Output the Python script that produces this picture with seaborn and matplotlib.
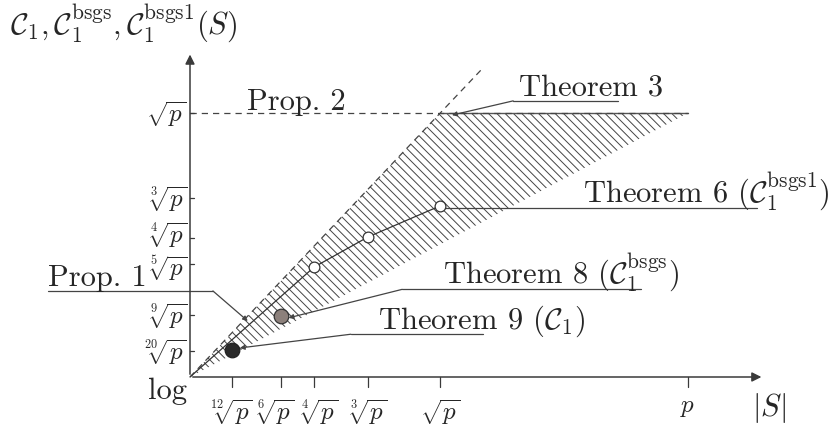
import matplotlib
matplotlib.use("Agg")
import matplotlib.pyplot as plt
import seaborn as sns
import pandas as pd

# positions are exponents of p (log scale)
x_ticks = [0.084, 0.183, 0.249, 0.357, 0.502, 1.0]
x_labels = [r"$\sqrt[12]{p}$", r"$\sqrt[6]{p}$", r"$\sqrt[4]{p}$",
            r"$\sqrt[3]{p}$", r"$\sqrt{p}$", r"$p$"]
y_ticks = [0.049, 0.117, 0.214, 0.263, 0.339, 0.5]
y_labels = [r"$\sqrt[20]{p}$", r"$\sqrt[9]{p}$", r"$\sqrt[5]{p}$",
            r"$\sqrt[4]{p}$", r"$\sqrt[3]{p}$", r"$\sqrt{p}$"]
# small nudges (points) so crowded tick labels do not collide
x_nudge = [0, -4, 4, 0, 0, 0]
y_nudge = [0, 0, -3, 3, 0, 0]

# feasible (hatched) region: between |S| and sqrt(|S|), capped at sqrt(p)
region_x = [0.0, 0.502, 1.0]
region_y = [0.0, 0.5, 0.5]

# Theorem 6 (bsgs1) points
thm6_x = [0.0, 0.249, 0.357, 0.502]
thm6_y = [0.0, 0.208, 0.265, 0.324]
# Theorem 8 (bsgs) and Theorem 9 (C1) points
thm8_x, thm8_y = [0.183], [0.116]
thm9_x, thm9_y = [0.084], [0.051]

sns.set_theme(style="white")
plt.rcParams["font.family"] = ["cmr10", "DejaVu Serif"]
plt.rcParams["mathtext.fontset"] = "cm"
plt.rcParams["axes.unicode_minus"] = False
plt.rcParams["hatch.linewidth"] = 0.7

fig = plt.figure(figsize=(8.38, 4.31), dpi=100)
ax = fig.add_axes([0, 0, 1, 1])
ax.set_xlim(-190 / 498, 648 / 498)
ax.set_ylim(-53 / 528, 378 / 528)
ax.axis("off")

axc = "#3a3a3a"
fs = 22
xfs = 18
yfs = 18

# hatched region
ax.fill(region_x, region_y, facecolor="white", edgecolor="#444444",
        hatch="\\\\\\\\", linewidth=0, zorder=1)
ax.plot(region_x[1:], region_y[1:], color="#555555", lw=1.0, zorder=2)

# dashed guides
ax.plot([0, 0.59], [0, 0.59 * 0.995], ls=(0, (5, 4)), color="#444444", lw=0.9, zorder=2)
ax.plot([0, 1.0], [0.5, 0.5], ls=(0, (5, 4)), color="#444444", lw=0.9, zorder=2)

# axes with arrows
ax.annotate("", xy=(1.153, 0), xytext=(0, 0),
            arrowprops=dict(arrowstyle="-|>", color=axc, lw=1.1, mutation_scale=14))
ax.annotate("", xy=(0, 0.616), xytext=(0, 0),
            arrowprops=dict(arrowstyle="-|>", color=axc, lw=1.1, mutation_scale=14))

# ticks
for xt, lab, dx in zip(x_ticks, x_labels, x_nudge):
    ax.plot([xt, xt], [0, -0.019], color=axc, lw=0.9)
    ax.annotate(lab, xy=(xt, -0.036), xytext=(dx, 0), textcoords="offset points",
                ha="center", va="top", fontsize=xfs)
for yt, lab, dy in zip(y_ticks, y_labels, y_nudge):
    ax.plot([0, 0.008], [yt, yt], color=axc, lw=0.9)
    ax.annotate(lab, xy=(-0.006, yt), xytext=(0, dy), textcoords="offset points",
                ha="right", va="center", fontsize=yfs)

# points
df6 = pd.DataFrame({"x": thm6_x, "y": thm6_y})
sns.lineplot(data=df6, x="x", y="y", color="#333333", lw=0.9, ax=ax, zorder=3)
sns.scatterplot(data=df6.iloc[1:], x="x", y="y", s=60, facecolor="white",
                edgecolor="#333333", linewidth=0.9, ax=ax, zorder=4)
sns.scatterplot(x=thm8_x, y=thm8_y, s=110, color="#8c807b",
                edgecolor="#333333", linewidth=0.9, ax=ax, zorder=4)
sns.scatterplot(x=thm9_x, y=thm9_y, s=110, color="#2a2a2a",
                edgecolor="#222222", linewidth=0.9, ax=ax, zorder=4)
ax.axis("off")

lc = "#444444"


def label(text, tx, ty, ux0, ux1, start, target):
    uy = ty - 0.012
    ax.text(tx, ty, text, ha="left", va="baseline", fontsize=fs)
    ax.plot([ux0, ux1], [uy, uy], color=lc, lw=0.9)
    ax.annotate("", xy=target, xytext=(start, uy),
                arrowprops=dict(arrowstyle="-|>", color=lc, lw=0.9,
                                mutation_scale=7, shrinkA=0, shrinkB=0))


label("Theorem 3", 0.66, 0.535, 0.649, 0.859, 0.649, (0.526, 0.496))
label(r"Theorem 6 ($\mathcal{C}_1^{\mathrm{bsgs1}}$)", 0.789, 0.333, 0.512, 1.139, 0.512, (0.512, 0.321))
label(r"Theorem 8 ($\mathcal{C}_1^{\mathrm{bsgs}}$)", 0.508, 0.178, 0.426, 0.906, 0.426, (0.198, 0.112))
label(r"Theorem 9 ($\mathcal{C}_1$)", 0.378, 0.093, 0.323, 0.588, 0.323, (0.100, 0.055))
label("Prop. 1", -0.285, 0.175, -0.285, 0.046, 0.046, (0.116, 0.106))
ax.text(0.114, 0.508, "Prop. 2", ha="left", va="baseline", fontsize=fs)

ax.text(-0.361, 0.65, r"$\mathcal{C}_1, \mathcal{C}_1^{\mathrm{bsgs}}, \mathcal{C}_1^{\mathrm{bsgs1}}(S)$",
        ha="left", va="baseline", fontsize=fs)
ax.text(-0.006, -0.025, "log", ha="right", va="center", fontsize=fs)
ax.text(1.163, -0.057, r"$|S|$", ha="center", va="center", fontsize=fs)

fig.savefig("out.png", dpi=100)
